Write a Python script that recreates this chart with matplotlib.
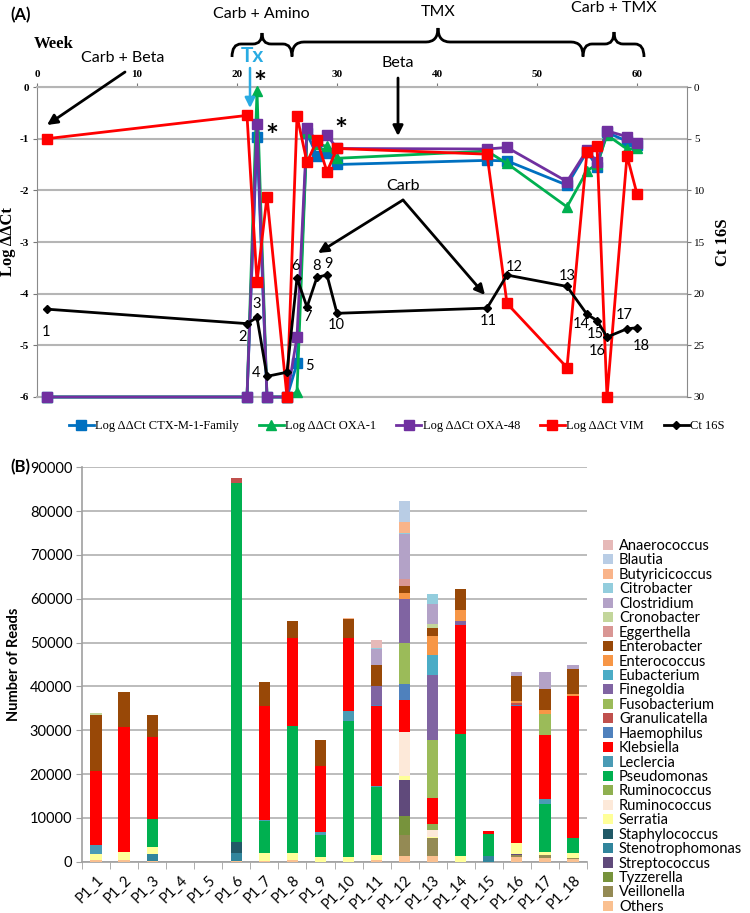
import matplotlib
matplotlib.use('Agg')
import matplotlib.pyplot as plt
from matplotlib.path import Path
from matplotlib.patches import PathPatch, Patch
from matplotlib.lines import Line2D
import numpy as np

# ---------------- Panel A data ----------------
weeks = [1, 21, 22, 23, 25, 26, 27, 28, 29, 30, 45, 47, 53, 55, 56, 57, 59, 60]
ctx_m1 = [-6, -6, -0.96, -6, -6, -5.35, -0.9, -1.33, -1.27, -1.5, -1.42, -1.43, -1.9, -1.25, -1.54, -0.88, -1.05, -1.12]
oxa1 = [-6, -6, -0.08, -6, -6, -5.9, -0.88, -1.1, -1.15, -1.38, -1.24, -1.48, -2.32, -1.62, -1.5, -0.93, -1.2, -1.19]
oxa48 = [-6, -6, -0.72, -6, -6, -4.84, -0.8, -1.05, -0.93, -1.19, -1.2, -1.17, -1.83, -1.22, -1.45, -0.85, -0.96, -1.08]
vim = [-1.0, -0.55, -3.78, -2.12, -6, -0.56, -1.46, -1.03, -1.64, -1.19, -1.3, -4.19, -5.43, -1.25, -1.15, -6, -1.33, -2.07]
ct16s = [21.5, 22.9, 22.3, 28.0, 27.6, 18.5, 21.3, 18.4, 18.2, 21.9, 21.4, 18.2, 19.3, 22.0, 22.6, 24.2, 23.4, 23.3]
point_labels = [str(i) for i in range(1, 19)]
week_ticks = [0, 10, 20, 30, 40, 50, 60]
left_ticks = [-6, -5, -4, -3, -2, -1, 0]
right_ticks = [0, 5, 10, 15, 20, 25, 30]

# ---------------- Panel B data ----------------
samples = ['P1_%d' % i for i in range(1, 19)]
Anaerococcus     = [0, 0, 0, 0, 0, 0, 0, 0, 0, 0, 1900, 0, 0, 0, 0, 0, 0, 0]
Blautia          = [0, 0, 0, 0, 0, 0, 0, 0, 0, 0, 0, 4800, 0, 0, 0, 0, 0, 0]
Butyricicoccus   = [0, 0, 0, 0, 0, 0, 0, 0, 0, 200, 0, 2500, 0, 0, 0, 0, 0, 0]
Citrobacter      = [0, 0, 0, 0, 0, 0, 0, 0, 0, 0, 300, 300, 2300, 0, 0, 0, 0, 0]
Clostridium      = [0, 0, 0, 0, 0, 0, 0, 0, 0, 0, 3700, 10300, 4700, 0, 0, 800, 3800, 900]
Cronobacter      = [400, 0, 0, 0, 0, 0, 0, 0, 0, 0, 0, 0, 900, 0, 0, 0, 0, 0]
Eggerthella      = [0, 0, 0, 0, 0, 0, 0, 0, 0, 0, 0, 1700, 0, 0, 0, 0, 0, 0]
Enterobacter     = [12700, 8000, 5000, 0, 0, 0, 5500, 3900, 5800, 4300, 4800, 1400, 1900, 4700, 0, 5800, 4800, 5600]
Enterococcus     = [0, 0, 0, 0, 0, 0, 0, 0, 0, 0, 0, 1400, 4300, 2500, 0, 400, 1000, 400]
Eubacterium      = [0, 0, 0, 0, 0, 0, 0, 0, 0, 0, 0, 0, 4600, 0, 0, 0, 0, 0]
Finegoldia       = [0, 0, 0, 0, 0, 0, 0, 0, 0, 0, 4200, 10100, 14800, 1000, 0, 0, 0, 0]
Fusobacterium    = [0, 0, 0, 0, 0, 0, 0, 0, 0, 0, 0, 9300, 13100, 0, 0, 0, 4700, 0]
Granulicatella   = [0, 0, 0, 0, 0, 1100, 0, 0, 0, 0, 0, 0, 0, 0, 0, 400, 0, 0]
Haemophilus      = [0, 0, 0, 0, 0, 0, 0, 0, 0, 0, 300, 3700, 0, 0, 0, 300, 0, 0]
Klebsiella       = [17000, 28500, 18700, 0, 0, 0, 26000, 20000, 15200, 16700, 18200, 7400, 5900, 24900, 600, 31300, 14700, 32600]
Leclercia        = [2100, 0, 0, 0, 0, 0, 200, 0, 600, 2200, 300, 0, 0, 0, 0, 0, 1000, 0]
Pseudomonas      = [0, 0, 6500, 0, 0, 82000, 7400, 29100, 5000, 31000, 15500, 0, 0, 27800, 5000, 0, 10900, 3300]
Ruminococcus_a   = [0, 0, 0, 0, 0, 0, 0, 0, 0, 0, 0, 0, 1500, 0, 0, 0, 0, 0]
Ruminococcus_b   = [0, 0, 0, 0, 0, 0, 0, 0, 0, 0, 0, 9900, 1500, 0, 0, 0, 0, 0]
Serratia         = [1300, 1800, 1600, 0, 0, 0, 1800, 1600, 1100, 1100, 1100, 900, 400, 1300, 0, 2400, 800, 1100]
Staphylococcus   = [0, 0, 0, 0, 0, 2500, 0, 0, 0, 0, 0, 0, 0, 0, 0, 0, 0, 0]
Stenotrophomonas = [0, 0, 1500, 0, 0, 1800, 0, 0, 0, 0, 0, 0, 0, 0, 1300, 0, 0, 0]
Streptococcus    = [0, 0, 0, 0, 0, 0, 0, 0, 0, 0, 0, 8200, 0, 0, 0, 300, 0, 0]
Tyzzerella       = [0, 0, 0, 0, 0, 0, 0, 0, 0, 0, 0, 4400, 0, 0, 0, 0, 0, 0]
Veillonella      = [0, 0, 0, 0, 0, 0, 0, 0, 0, 0, 0, 4800, 4000, 0, 0, 500, 700, 200]
Others           = [400, 500, 200, 0, 0, 200, 100, 300, 0, 0, 400, 1300, 1300, 0, 0, 1000, 800, 700]
read_ticks = list(range(0, 90001, 10000))

# legend order (top to bottom); stacking is the reverse
genera = [
    ('Anaerococcus', Anaerococcus, '#E6B9B8'),
    ('Blautia', Blautia, '#B9CDE5'),
    ('Butyricicoccus', Butyricicoccus, '#F9B48A'),
    ('Citrobacter', Citrobacter, '#93CDDD'),
    ('Clostridium', Clostridium, '#B3A2C7'),
    ('Cronobacter', Cronobacter, '#C3D69B'),
    ('Eggerthella', Eggerthella, '#D99694'),
    ('Enterobacter', Enterobacter, '#984807'),
    ('Enterococcus', Enterococcus, '#F79646'),
    ('Eubacterium', Eubacterium, '#4BACC6'),
    ('Finegoldia', Finegoldia, '#8064A2'),
    ('Fusobacterium', Fusobacterium, '#9BBB59'),
    ('Granulicatella', Granulicatella, '#C0504D'),
    ('Haemophilus', Haemophilus, '#4F81BD'),
    ('Klebsiella', Klebsiella, '#FF0000'),
    ('Leclercia', Leclercia, '#4A9BB5'),
    ('Pseudomonas', Pseudomonas, '#00B050'),
    ('Ruminococcus', Ruminococcus_a, '#8FB050'),
    ('Ruminococcus', Ruminococcus_b, '#FDE9D9'),
    ('Serratia', Serratia, '#FFFF99'),
    ('Staphylococcus', Staphylococcus, '#215967'),
    ('Stenotrophomonas', Stenotrophomonas, '#31859C'),
    ('Streptococcus', Streptococcus, '#604A7B'),
    ('Tyzzerella', Tyzzerella, '#77933C'),
    ('Veillonella', Veillonella, '#948A54'),
    ('Others', Others, '#FAC090'),
]

SERIF = 'Liberation Serif'
SANS = 'Lato'

fig = plt.figure(figsize=(7.5, 9.13), dpi=100)
W, H = 750.0, 913.0

def fax(x0, y0, x1, y1):
    return [x0 / W, 1 - y1 / H, (x1 - x0) / W, (y1 - y0) / H]

# ---------------- Panel A ----------------
axA = fig.add_axes(fax(37, 87, 687, 397))
axA.set_xlim(0, 65.0)
axA.set_ylim(-6, 0)
axA.set_yticks(left_ticks)
axA.set_yticklabels([str(t) for t in left_ticks], fontfamily=SERIF, fontweight='bold', fontsize=8)
axA.grid(axis='y', color='#b5b5b5', lw=1.5)
axA.set_axisbelow(True)
axA.xaxis.tick_top()
axA.set_xticks(week_ticks)
axA.set_xticklabels([str(t) for t in week_ticks], fontfamily=SERIF, fontweight='bold', fontsize=8)
axA.tick_params(axis='x', length=3, color='#777777', pad=3)
axA.tick_params(axis='y', length=3, color='#777777', pad=3)
for s in ['top', 'bottom']:
    axA.spines[s].set_color('#b5b5b5')
    axA.spines[s].set_linewidth(1.5)
axA.spines['left'].set_color('#8a8a8a')
axA.spines['right'].set_visible(False)

series = [
    ('Log ΔΔCt CTX-M-1-Family', ctx_m1, '#0070C0', 's'),
    ('Log ΔΔCt OXA-1', oxa1, '#00B050', '^'),
    ('Log ΔΔCt OXA-48', oxa48, '#7030A0', 's'),
    ('Log ΔΔCt VIM', vim, '#FF0000', 's'),
]
handlesA = []
for i, (lab, vals, col, mk) in enumerate(series):
    ln, = axA.plot(weeks, vals, color=col, marker=mk, ms=6.5, lw=2.0, clip_on=False, zorder=3 + i, label=lab)
    handlesA.append(ln)

axR = axA.twinx()
axR.set_ylim(30, 0)
axR.set_yticks(right_ticks)
axR.set_yticklabels([str(t) for t in right_ticks], fontfamily=SERIF, fontsize=8)
axR.tick_params(axis='y', length=3, color='#777777', pad=2)
for s in ['top', 'bottom', 'left']:
    axR.spines[s].set_visible(False)
axR.spines['right'].set_color('#8a8a8a')
lnct, = axR.plot(weeks, ct16s, color='black', marker='D', ms=4.5, lw=2.0, clip_on=False, label='Ct 16S')
handlesA.append(lnct)

label_offsets = [(-0.7, -16.6), (-2.9, -9.4), (0, 9.4), (-7.9, 2.2), (15.8, 4.3), (-1.4, 8.6),
                 (0, -7.2), (-0.7, 7.9), (0.7, 7.9), (-0.7, -8.6), (0.7, -9.4), (5, 5.8),
                 (0, 7.2), (-4.3, -7.2), (-1.4, -10), (-7.2, -10), (-2.2, 10), (2.9, -13)]
for w, c, lab, off in zip(weeks, ct16s, point_labels, label_offsets):
    axR.annotate(lab, (w, c), xytext=off, textcoords='offset points', ha='center', va='center',
                 fontsize=10.5, fontfamily=SANS)

fig.legend(handles=handlesA, loc='center', bbox_to_anchor=(0.529, 1 - 426 / H), ncol=5, frameon=False,
           prop={'family': SERIF, 'size': 9}, handlelength=2.0, handletextpad=0.1, columnspacing=1.6)

# ---------------- Panel B ----------------
axB = fig.add_axes(fax(82, 467.3, 587, 861.7))
x = np.arange(len(samples))
bottom = np.zeros(len(samples))
handlesB = []
for name, vals, col in reversed(genera):
    v = np.array(vals, dtype=float)
    axB.bar(x, v, width=0.4, bottom=bottom, color=col, zorder=3, linewidth=0)
    bottom += v
for name, vals, col in genera:
    handlesB.append(Patch(facecolor=col, edgecolor='none', label=name))

axB.set_xlim(-0.5, len(samples) - 0.5)
axB.set_ylim(0, 90000)
axB.set_yticks(read_ticks)
axB.set_yticklabels([str(t) for t in read_ticks], fontfamily=SANS, fontsize=10.5)
axB.grid(axis='y', color='#b0b0b0', lw=1.2, zorder=0)
axB.set_axisbelow(True)
for s in ['top', 'right']:
    axB.spines[s].set_visible(False)
for s in ['left', 'bottom']:
    axB.spines[s].set_color('#a0a0a0')
    axB.spines[s].set_linewidth(1.2)
axB.tick_params(axis='y', length=4, color='#a0a0a0', pad=3)
axB.set_xticks(x)
axB.set_xticklabels(samples, rotation=45, ha='right', rotation_mode='anchor', fontfamily=SANS, fontsize=10.5)
axB.tick_params(axis='x', which='major', length=0, pad=8)
axB.set_xticks(np.arange(-0.5, len(samples), 1.0), minor=True)
axB.tick_params(axis='x', which='minor', length=5, color='#a0a0a0')
axB.set_ylabel('Number of Reads', fontfamily=SANS, fontweight='bold', fontsize=10.5, labelpad=6)

fig.legend(handles=handlesB, loc='upper left', bbox_to_anchor=(603 / W, 1 - 539 / H), frameon=False,
           prop={'family': SANS, 'size': 10.5}, handlelength=0.7, handleheight=0.7, handletextpad=0.4,
           labelspacing=0.03, borderaxespad=0, borderpad=0)

# ---------------- Overlay annotations (pixel coordinates) ----------------
ov = fig.add_axes([0, 0, 1, 1], zorder=10)
ov.set_xlim(0, W)
ov.set_ylim(H, 0)
ov.axis('off')

def brace(x0, x1, xt, yb, ye, yt, r=10):
    verts = [(x0, ye), (x0, yb), (x0 + r, yb), (xt - r, yb), (xt, yb), (xt, yt),
             (xt, yb), (xt + r, yb), (x1 - r, yb), (x1, yb), (x1, ye)]
    codes = [Path.MOVETO, Path.CURVE3, Path.CURVE3, Path.LINETO, Path.CURVE3, Path.CURVE3,
             Path.CURVE3, Path.CURVE3, Path.LINETO, Path.CURVE3, Path.CURVE3]
    ov.add_patch(PathPatch(Path(verts, codes), fill=False, lw=2.0, color='black'))

brace(232, 292, 262, 44, 57, 33, r=9)
brace(292, 583, 438, 42, 56, 28, r=12)
brace(583, 644, 614, 44, 57, 32, r=9)

ov.text(10, 15, '(A)', fontfamily=SANS, fontweight='bold', fontsize=12, ha='left', va='center')
ov.text(10, 467, '(B)', fontfamily=SANS, fontweight='bold', fontsize=12, ha='left', va='center')
ov.text(34, 44, 'Week', fontfamily=SERIF, fontweight='bold', fontsize=12, ha='left', va='center')
ov.text(261, 14, 'Carb + Amino', fontfamily=SANS, fontsize=11.5, ha='center', va='center')
ov.text(438, 12, 'TMX', fontfamily=SANS, fontsize=11.5, ha='center', va='center')
ov.text(614, 8, 'Carb + TMX', fontfamily=SANS, fontsize=11.5, ha='center', va='center')
ov.text(123, 58, 'Carb + Beta', fontfamily=SANS, fontsize=11.5, ha='center', va='center')
ov.text(398, 63, 'Beta', fontfamily=SANS, fontsize=11.5, ha='center', va='center')
ov.text(403, 186, 'Carb', fontfamily=SANS, fontsize=11.5, ha='center', va='center')
ov.text(252, 56, 'Tx', fontfamily=SANS, fontweight='bold', fontsize=15, color='#29ABE2', ha='center', va='center')
for (ax_, ay_) in [(260, 84), (272, 137), (341, 131)]:
    ov.text(ax_, ay_, '*', fontfamily=SANS, fontsize=22, ha='center', va='center', fontweight='bold')

arrow = dict(arrowstyle='-|>,head_length=0.6,head_width=0.3', color='black', lw=2.0, shrinkA=0, shrinkB=0)
ov.annotate('', xy=(47, 125), xytext=(125, 72), arrowprops=arrow)
ov.annotate('', xy=(398, 136), xytext=(398, 78), arrowprops=arrow)
ov.annotate('', xy=(318, 253), xytext=(403, 200), arrowprops=arrow)
ov.annotate('', xy=(485, 295), xytext=(403, 200), arrowprops=arrow)
ov.annotate('', xy=(250, 108), xytext=(250, 68),
            arrowprops=dict(arrowstyle='-|>,head_length=0.6,head_width=0.3', color='#29ABE2', lw=1.8,
                            shrinkA=0, shrinkB=0))

ov.text(8, 242, 'Log ΔΔCt', fontfamily=SERIF, fontweight='bold', fontsize=12, rotation=90, ha='center', va='center')
ov.text(723, 242, 'Ct 16S', fontfamily=SERIF, fontweight='bold', fontsize=12, rotation=90, ha='center', va='center')

fig.savefig('out.png', dpi=100)
